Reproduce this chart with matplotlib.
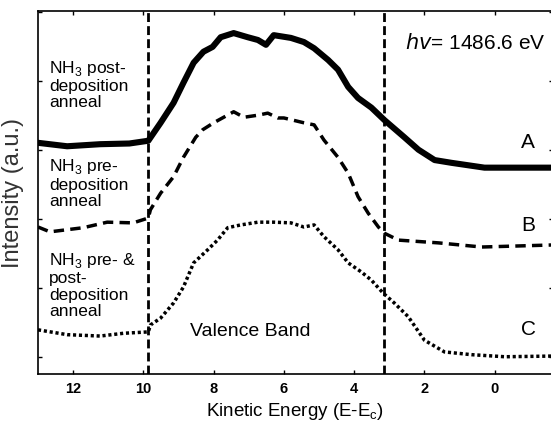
import matplotlib
matplotlib.use("Agg")
import matplotlib.pyplot as plt

plt.rcParams["font.family"] = ["Liberation Sans", "DejaVu Sans"]

# Spectrum A: NH3 post-deposition anneal (solid)
energy_a = [13.00, 12.17, 11.23, 10.40, 9.86, 9.51, 9.14, 8.86, 8.57, 8.29, 8.03,
            7.80, 7.43, 7.03, 6.74, 6.51, 6.29, 5.80, 5.43, 5.14, 4.74, 4.46,
            4.17, 3.89, 3.51, 3.14, 2.57, 2.17, 1.71, 1.23, 0.29, -1.66]
counts_a = [3.35, 3.30, 3.33, 3.34, 3.38, 3.64, 3.93, 4.22, 4.51, 4.67, 4.74,
            4.88, 4.94, 4.88, 4.84, 4.77, 4.91, 4.87, 4.81, 4.72, 4.55, 4.41,
            4.16, 4.00, 3.86, 3.68, 3.43, 3.25, 3.10, 3.06, 2.99, 2.99]

# Spectrum B: NH3 pre-deposition anneal (dashed)
energy_b = [13.00, 12.66, 11.71, 11.03, 10.29, 9.86, 9.80, 9.51, 9.14, 8.86, 8.51,
            8.31, 8.00, 7.43, 7.14, 6.74, 6.46, 6.17, 6.00, 5.43, 5.14, 4.86,
            4.46, 4.17, 3.89, 3.60, 3.31, 3.14, 2.74, 1.60, 0.37, -1.66]
counts_b = [2.13, 2.06, 2.12, 2.20, 2.19, 2.26, 2.38, 2.62, 2.86, 3.14, 3.43,
            3.54, 3.64, 3.80, 3.72, 3.75, 3.78, 3.71, 3.71, 3.64, 3.61, 3.39,
            3.14, 2.91, 2.57, 2.33, 2.13, 2.04, 1.94, 1.90, 1.84, 1.87]

# Spectrum C: NH3 pre- & post-deposition anneal (dotted)
energy_c = [13.00, 12.17, 11.23, 10.57, 9.86, 9.80, 9.51, 9.14, 8.86, 8.57, 8.17,
            7.89, 7.60, 7.23, 6.74, 6.29, 5.80, 5.43, 5.14, 4.86, 4.46, 4.17,
            3.80, 3.51, 3.17, 2.86, 2.46, 2.00, 1.43, 0.66, -0.29, -1.66]
counts_c = [0.64, 0.57, 0.55, 0.59, 0.61, 0.71, 0.81, 1.03, 1.26, 1.61, 1.80,
            1.94, 2.12, 2.16, 2.20, 2.20, 2.19, 2.13, 2.16, 1.99, 1.80, 1.61,
            1.48, 1.36, 1.17, 1.03, 0.83, 0.49, 0.32, 0.28, 0.25, 0.26]

# valence band edges
band_edges = [9.86, 3.14]

xticks = [12, 10, 8, 6, 4, 2, 0]
yticks = [0.25, 1.25, 2.25, 3.25, 4.25, 5.25]

fig = plt.figure(figsize=(5.51, 4.23), dpi=100)
ax = fig.add_axes([38 / 551, 49 / 423, 515 / 551, 363 / 423])

ax.plot(energy_a, counts_a, color="black", lw=4.4, solid_joinstyle="round")
ax.plot(energy_b, counts_b, color="black", lw=2.5, linestyle=(0, (3.0, 1.8)))
ax.plot(energy_c, counts_c, color="black", lw=2.5, linestyle=(0, (0.9, 0.8)))
for e in band_edges:
    ax.axvline(e, color="black", lw=2.0, linestyle=(0, (3.2, 1.5)))

ax.set_xlim(13.0, -1.66)
ax.set_ylim(0, 5.26)
ax.set_xticks(xticks)
ax.set_xticklabels([str(t) for t in xticks], fontweight="bold", fontsize=10.5)
ax.set_yticks(yticks)
ax.set_yticklabels([])
ax.tick_params(direction="in", length=3, width=1, top=True, right=True, pad=6)
for sp in ax.spines.values():
    sp.set_linewidth(1.2)

ax.set_xlabel("Kinetic Energy (E-E$_\\mathregular{c}$)", fontsize=13.5, labelpad=3)
ax.set_ylabel("Intensity (a.u.)", fontsize=17, color="#333333", labelpad=4)

txt = dict(fontsize=12.5, va="top", ha="left", linespacing=1.1, transform=ax.transData)
ax.text(12.68, 4.57, "NH$_\\mathregular{3}$ post-\ndeposition\nanneal", **txt)
ax.text(12.68, 3.14, "NH$_\\mathregular{3}$ pre-\ndeposition\nanneal", **txt)
ax.text(12.68, 1.78, "NH$_\\mathregular{3}$ pre- &\npost-\ndeposition\nanneal", **txt)

ax.text(-1.45, 4.79, "$hv$= 1486.6 eV", fontsize=15, ha="right", va="center")
ax.text(6.95, 0.61, "Valence Band", fontsize=14, ha="center", va="center")
for lbl, yv in zip(["A", "B", "C"], [3.36, 2.15, 0.64]):
    ax.text(-0.95, yv, lbl, fontsize=15, ha="center", va="center")

fig.savefig("out.png", dpi=100)
